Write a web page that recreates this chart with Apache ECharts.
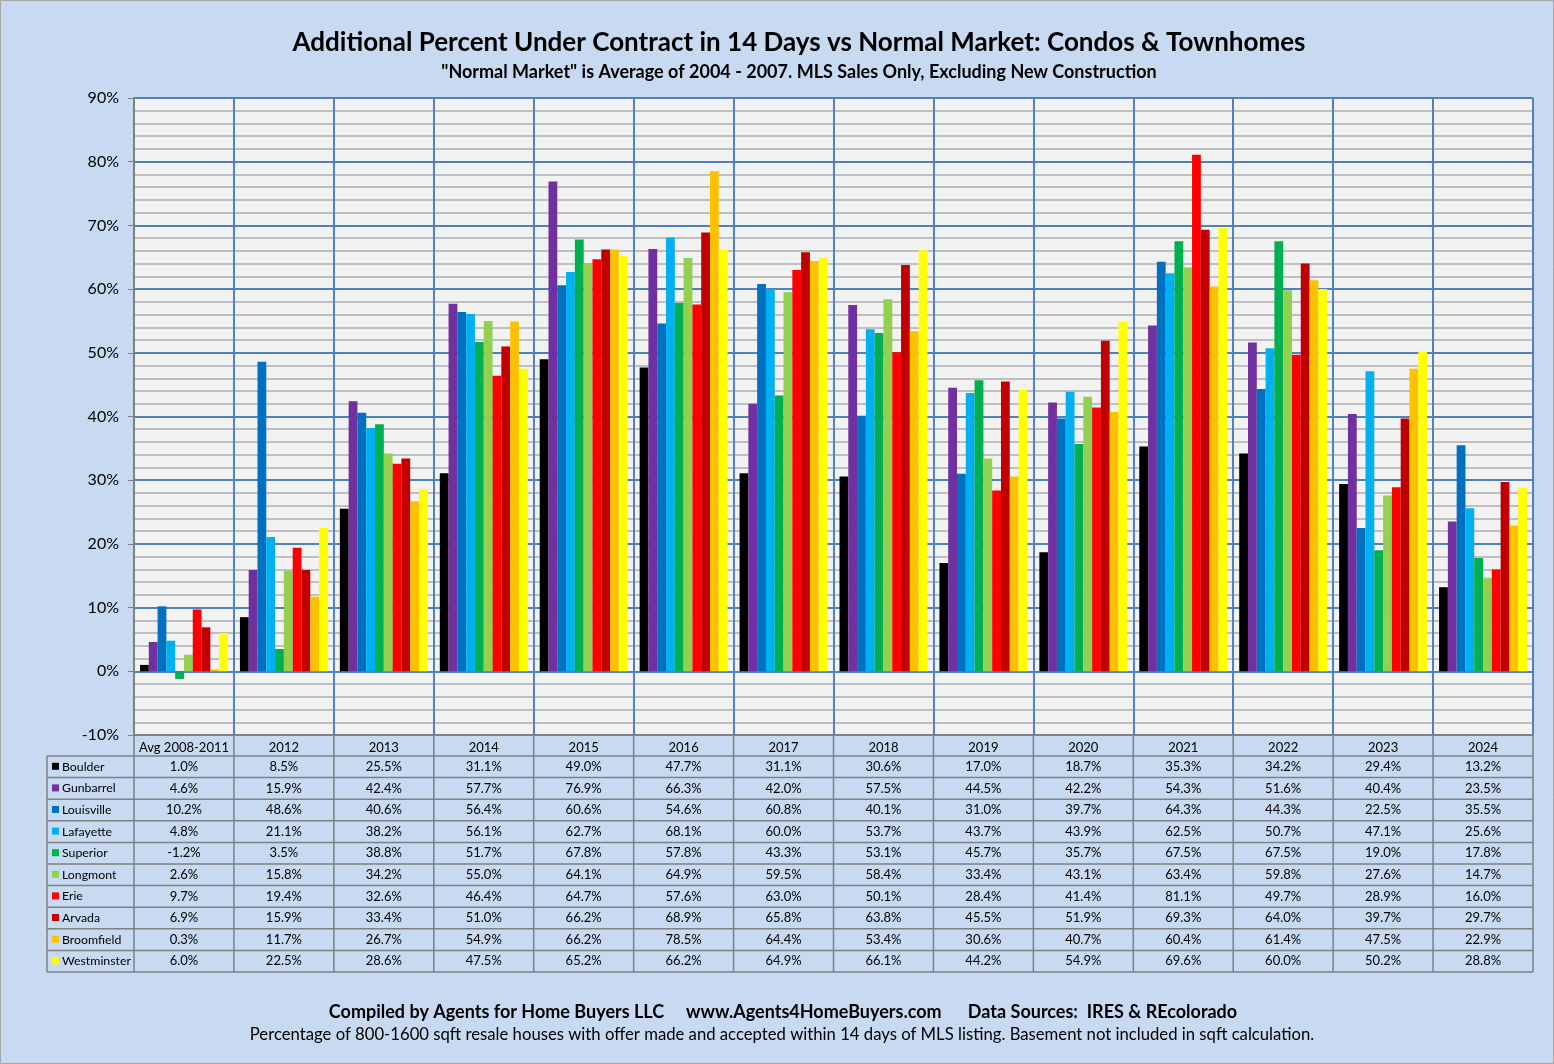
<!DOCTYPE html>
<html><head><meta charset="utf-8">
<script src="https://cdn.jsdelivr.net/npm/echarts@6/dist/echarts.min.js"></script>
<style>html,body{margin:0;padding:0;background:#C8DAF1;}#c{width:1554px;height:1064px;}</style>
</head><body><div id="c"></div>
<script>
const categories = ['Avg 2008-2011','2012','2013','2014','2015','2016','2017','2018','2019','2020','2021','2022','2023','2024'];
const seriesNames = ['Boulder','Gunbarrel','Louisville','Lafayette','Superior','Longmont','Erie','Arvada','Broomfield','Westminster'];
const seriesColors = ['#000000','#7030A0','#0070C0','#00B0F0','#00B050','#92D050','#FF0000','#C00000','#FFC000','#FFFF00'];
const boulder     = [1.0,8.5,25.5,31.1,49.0,47.7,31.1,30.6,17.0,18.7,35.3,34.2,29.4,13.2];
const gunbarrel   = [4.6,15.9,42.4,57.7,76.9,66.3,42.0,57.5,44.5,42.2,54.3,51.6,40.4,23.5];
const louisville  = [10.2,48.6,40.6,56.4,60.6,54.6,60.8,40.1,31.0,39.7,64.3,44.3,22.5,35.5];
const lafayette   = [4.8,21.1,38.2,56.1,62.7,68.1,60.0,53.7,43.7,43.9,62.5,50.7,47.1,25.6];
const superior    = [-1.2,3.5,38.8,51.7,67.8,57.8,43.3,53.1,45.7,35.7,67.5,67.5,19.0,17.8];
const longmont    = [2.6,15.8,34.2,55.0,64.1,64.9,59.5,58.4,33.4,43.1,63.4,59.8,27.6,14.7];
const erie        = [9.7,19.4,32.6,46.4,64.7,57.6,63.0,50.1,28.4,41.4,81.1,49.7,28.9,16.0];
const arvada      = [6.9,15.9,33.4,51.0,66.2,68.9,65.8,63.8,45.5,51.9,69.3,64.0,39.7,29.7];
const broomfield  = [0.3,11.7,26.7,54.9,66.2,78.5,64.4,53.4,30.6,40.7,60.4,61.4,47.5,22.9];
const westminster = [6.0,22.5,28.6,47.5,65.2,66.2,64.9,66.1,44.2,54.9,69.6,60.0,50.2,28.8];
const allData = [boulder,gunbarrel,louisville,lafayette,superior,longmont,erie,arvada,broomfield,westminster];

const FONT = 'Lato, "Open Sans", sans-serif';
const chart = echarts.init(document.getElementById('c'));
const G = {left:134, right:21, top:98, bottom:329};
const rowH = 21.6, headH = 21, tableLeft = 47;

chart.setOption({
  backgroundColor:'#C8DAF1',
  animation:false,
  textStyle:{fontFamily:FONT},
  title:[
    {text:'Additional Percent Under Contract in 14 Days vs Normal Market: Condos & Townhomes', left:794, top:25, textAlign:'center',
     textStyle:{fontFamily:FONT, fontSize:26, fontWeight:'bold', color:'#000'}},
    {text:'"Normal Market" is Average of 2004 - 2007. MLS Sales Only, Excluding New Construction', left:794, top:58, textAlign:'center',
     textStyle:{fontFamily:FONT, fontSize:18, fontWeight:'bold', color:'#000'}},
    {text:'Compiled by Agents for Home Buyers LLC     www.Agents4HomeBuyers.com      Data Sources:  IRES & REcolorado', left:778, top:998, textAlign:'center',
     textStyle:{fontFamily:FONT, fontSize:18, fontWeight:'bold', color:'#000'}},
    {text:'Percentage of 800-1600 sqft resale houses with offer made and accepted within 14 days of MLS listing. Basement not included in sqft calculation.', left:777, top:1021, textAlign:'center',
     textStyle:{fontFamily:FONT, fontSize:16.7, fontWeight:'normal', color:'#000'}}
  ],
  grid:{left:G.left, right:G.right, top:G.top, bottom:G.bottom, show:true, backgroundColor:'#F2F2F2', borderWidth:0},
  xAxis:{type:'category', data:categories, boundaryGap:true,
    axisLine:{onZero:false, lineStyle:{color:'#808080', width:2}},
    axisTick:{show:false},
    axisLabel:{interval:0, margin:6, fontSize:13, color:'#000', fontFamily:FONT},
    splitLine:{show:true, interval:0, lineStyle:{color:'#4F81BD', width:2}}
  },
  yAxis:{type:'value', min:-10, max:90, interval:10,
    axisLine:{show:true, lineStyle:{color:'#808080', width:2}},
    axisTick:{show:true, length:6, lineStyle:{color:'#808080'}},
    axisLabel:{formatter:'{value}%', fontSize:16, color:'#000', margin:15, fontFamily:FONT},
    splitLine:{lineStyle:{color:'#4F81BD', width:2}},
    minorTick:{show:false, splitNumber:5},
    minorSplitLine:{show:true, lineStyle:{color:'#BFBFBF', width:2}}
  },
  series: seriesNames.map((n,i)=>({
    name:n, type:'bar', data:allData[i], barGap:'0%', barCategoryGap:'12%',
    itemStyle:{color:seriesColors[i]}, z:3
  }))
});

// Data table built from the x scale
const cw = chart.convertToPixel({xAxisIndex:0}, 1) - chart.convertToPixel({xAxisIndex:0}, 0);
const yTop = 1064 - G.bottom;
const yRows = yTop + headH;
const yEnd = yRows + rowH*seriesNames.length;
const xRight = 1554 - G.right;
const g = [];
const lineStyle = {stroke:'#7F7F7F', lineWidth:1.5};
for (let r=0; r<=seriesNames.length; r++){
  const y = yRows + r*rowH;
  g.push({type:'line', shape:{x1:tableLeft, y1:y, x2:xRight, y2:y}, style:lineStyle, z:10});
}
for (let c=0; c<=categories.length; c++){
  const x = chart.convertToPixel({xAxisIndex:0}, 0) - cw/2 + c*cw;
  g.push({type:'line', shape:{x1:x, y1:yTop, x2:x, y2:yEnd}, style:lineStyle, z:10});
}
g.push({type:'line', shape:{x1:tableLeft, y1:yRows, x2:tableLeft, y2:yEnd}, style:lineStyle, z:10});
seriesNames.forEach((n,r)=>{
  const yc = yRows + r*rowH + rowH/2;
  g.push({type:'rect', shape:{x:52, y:yc-4, width:7, height:7}, style:{fill:seriesColors[r]}, z:11});
  g.push({type:'text', x:62, y:yc, style:{text:n, fontSize:12.3, fontFamily:FONT, fill:'#000', verticalAlign:'middle', align:'left'}, z:11});
  allData[r].forEach((v,c)=>{
    const xc = chart.convertToPixel({xAxisIndex:0}, c);
    g.push({type:'text', x:xc, y:yc, style:{text:v.toFixed(1)+'%', fontSize:13, fontFamily:FONT, fill:'#000', align:'center', verticalAlign:'middle'}, z:11});
  });
});
g.push({type:'rect', shape:{x:0.5, y:0.5, width:1553, height:1063}, style:{fill:null, stroke:'#A6A6A6', lineWidth:1}, z:0});
chart.setOption({graphic:g});
</script></body></html>
